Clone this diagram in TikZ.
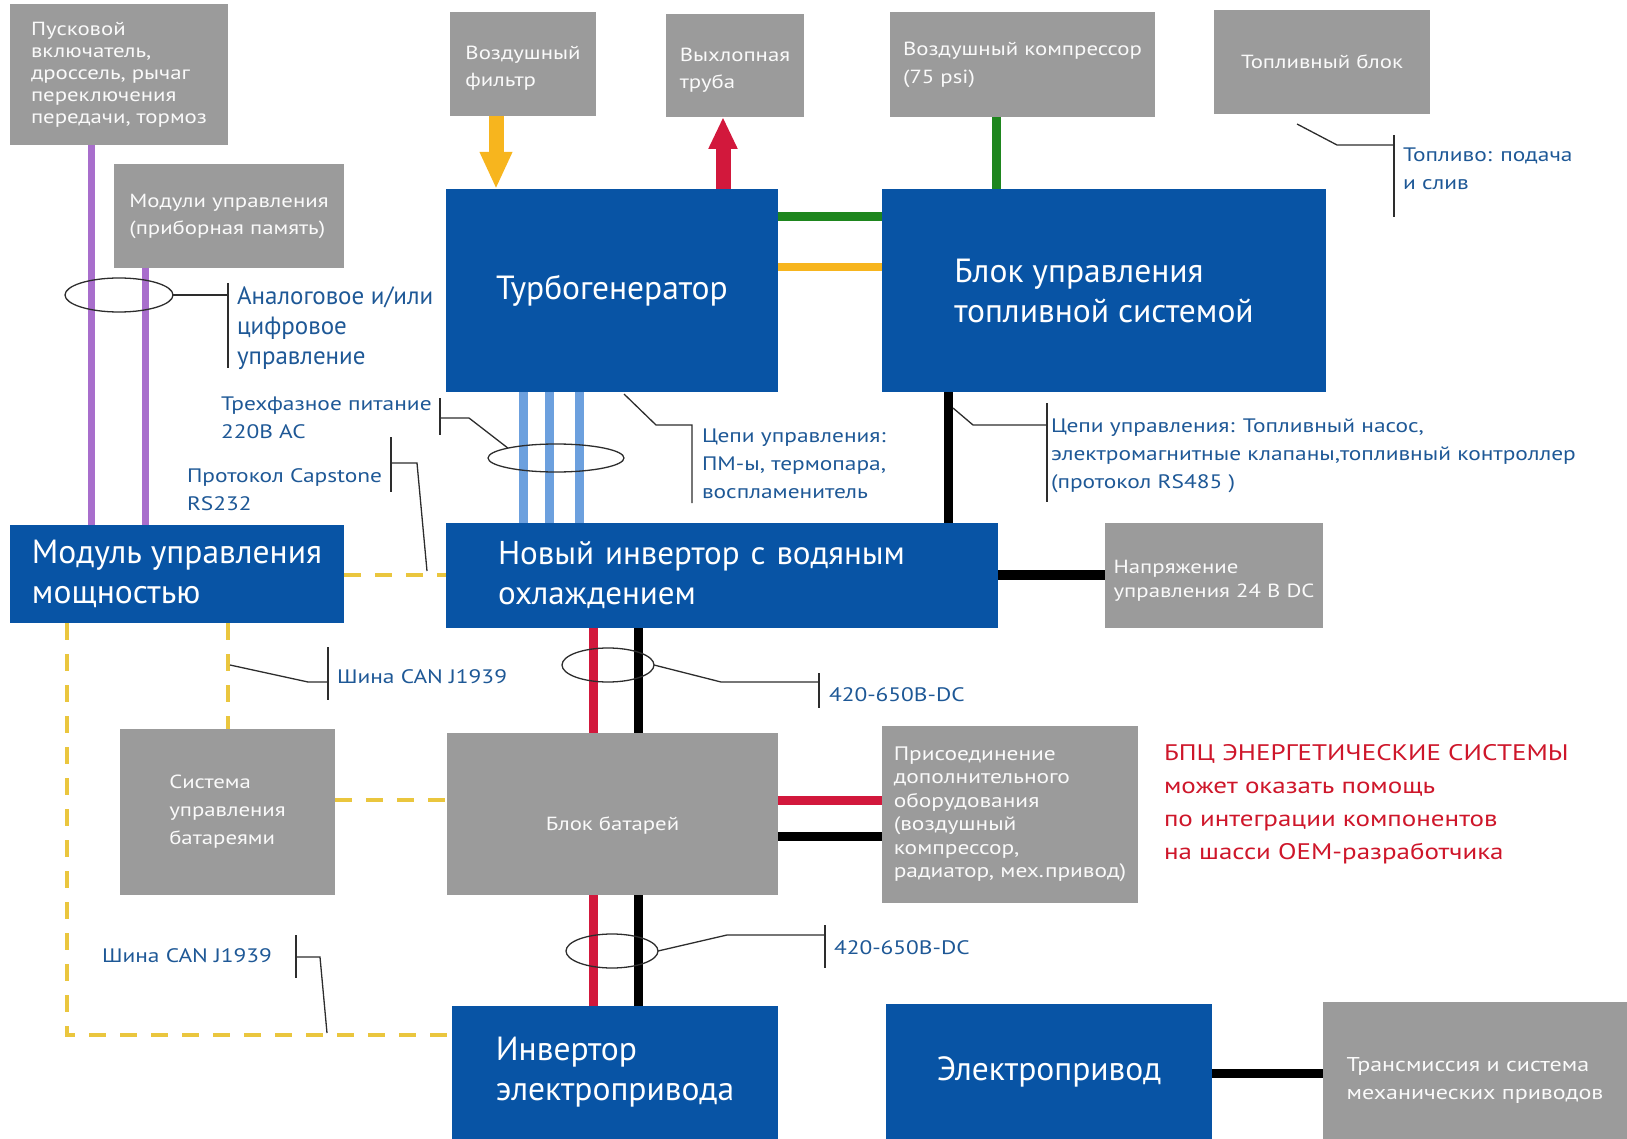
\documentclass[tikz,border=0pt]{standalone}
\usepackage{fontspec}
\setmainfont{PT Sans}
\newfontfamily\widefont{PT Sans}[FakeStretch=1.2]
\usepackage{xcolor}
\usetikzlibrary{arrows.meta}
\usetikzlibrary{shapes.geometric}
\definecolor{blockblue}{RGB}{8,84,165}
\definecolor{blockgray}{RGB}{155,155,155}
\definecolor{noteblue}{RGB}{30,88,150}
\definecolor{leadgray}{RGB}{45,45,45}
\definecolor{wirepurple}{RGB}{168,110,204}
\definecolor{wirephase}{RGB}{108,160,222}
\definecolor{wiregreen}{RGB}{30,134,30}
\definecolor{wireorange}{RGB}{247,181,30}
\definecolor{wirered}{RGB}{210,24,60}
\definecolor{busyellow}{RGB}{234,198,62}
\definecolor{promored}{RGB}{206,22,42}

\begin{document}
\begin{tikzpicture}[x=1pt,y=-1pt]
\tikzstyle{every node}=[inner sep=0pt,outer sep=0pt]
\tikzstyle{bluebox}=[fill=blockblue,text=white,anchor=north west,align=left,font=\fontsize{33.5}{40}\selectfont]
\tikzstyle{graybox}=[fill=blockgray,text=white!95!blockgray,anchor=north west,align=left,font=\widefont\fontsize{19}{22}\selectfont]
\tikzstyle{note}=[text=noteblue,anchor=west,align=left,font=\widefont\fontsize{19.5}{28}\selectfont]
\tikzstyle{leadline}=[draw=leadgray,line width=1.3pt]
\tikzstyle{bundle}=[ellipse,draw=leadgray,line width=1.3pt]
\tikzstyle{ctlwire}=[draw=wirepurple,line width=7pt]
\tikzstyle{phasewire}=[draw=wirephase,line width=9pt]
\tikzstyle{greenwire}=[draw=wiregreen,line width=9pt]
\tikzstyle{fuelwire}=[draw=wireorange,line width=8pt]
\tikzstyle{pluswire}=[draw=wirered,line width=9pt]
\tikzstyle{minuswire}=[draw=black,line width=9pt]
\tikzstyle{canbus}=[draw=busyellow,line width=4pt,dash pattern=on 17pt off 14pt]
\useasboundingbox (0,0) rectangle (1627,1139);

\node[graybox,minimum width=218pt,minimum height=141pt] (starter) at (10,4) {Пусковой\\включатель,\\дроссель, рычаг\\переключения\\передачи, тормоз};
\node[graybox,minimum width=230pt,minimum height=104pt,font=\widefont\fontsize{19}{27}\selectfont] (modules) at (114,164) {Модули управления\\(приборная память)};
\node[graybox,minimum width=146pt,minimum height=104pt,font=\widefont\fontsize{19}{27}\selectfont,text height=49pt] (filter) at (450,12) {Воздушный\\фильтр};
\node[graybox,minimum width=138pt,minimum height=103pt,font=\widefont\fontsize{19}{27}\selectfont,text height=49pt] (exhaust) at (666,14) {Выхлопная\\труба};
\node[graybox,minimum width=265pt,minimum height=105pt,font=\widefont\fontsize{19}{28}\selectfont] (compressor) at (890,12) {Воздушный компрессор\\(75 psi)};
\node[graybox,minimum width=216pt,minimum height=104pt] (fuelunit) at (1214,10) {Топливный блок};
\node[bluebox,minimum width=332pt,minimum height=203pt] (turbo) at (446,189) {Турбогенератор};
\node[bluebox,minimum width=444pt,minimum height=203pt] (fuelctl) at (882,189) {Блок управления\\топливной системой};
\node[bluebox,minimum width=334pt,minimum height=98pt] (pcm) at (10,525) {Модуль управления\\мощностью};
\node[bluebox,text width=448pt,inner xsep=52pt,minimum height=105pt,font=\fontsize{33}{40}\selectfont] (newinv) at (446,523) {Новый инвертор с водяным\\охлаждением};
\node[graybox,minimum width=218pt,minimum height=105pt,font=\widefont\fontsize{19}{24}\selectfont,text height=47pt] (ctlvolt) at (1105,523) {Напряжение\\управления 24 В DC};
\node[graybox,minimum width=215pt,minimum height=166pt,font=\widefont\fontsize{19}{28}\selectfont] (bms) at (120,729) {Система\\управления\\батареями};
\node[graybox,minimum width=331pt,minimum height=162pt,text height=36pt,text depth=4pt] (battery) at (447,733) {Блок батарей};
\node[graybox,minimum width=256pt,minimum height=177pt,font=\widefont\fontsize{19.5}{23.5}\selectfont] (aux) at (882,726) {Присоединение\\дополнительного\\оборудования\\(воздушный\\компрессор,\\радиатор, мех.привод)};
\node[bluebox,minimum width=326pt,minimum height=133pt] (drvinv) at (452,1006) {Инвертор\\электропривода};
\node[bluebox,minimum width=326pt,minimum height=135pt] (motor) at (886,1004) {Электропривод};
\node[graybox,minimum width=304pt,minimum height=137pt,font=\widefont\fontsize{20}{28}\selectfont,text height=62pt] (transm) at (1323,1002) {Трансмиссия и система\\механических приводов};

\node[note,font=\fontsize{25}{30}\selectfont] (ctlnote) at (237,328) {Аналоговое и/или\\цифровое\\управление};
\node[note] (phasenote) at (221,418) {Трехфазное питание\\220В AC};
\node[note] (capnote) at (187,490) {Протокол Capstone\\RS232};
\node[note] (turbonote) at (702,464) {Цепи управления:\\ПМ-ы, термопара,\\воспламенитель};
\node[note] (fuelnote) at (1051,456) {Цепи управления: Топливный насос,\\электромагнитные клапаны,топливный контроллер\\(протокол RS485 )};
\node[note] (supplynote) at (1403,169) {Топливо: подача\\и слив};
\node[note] (cannote) at (337,677) {Шина CAN J1939};
\node[note] (dcnote) at (829,695) {420-650В-DC};
\node[note] (dcnote2) at (834,948) {420-650В-DC};
\node[note] (cannote2) at (102,956) {Шина CAN J1939};
\node[anchor=west,align=left,text=promored,font=\widefont\fontsize{22.5}{33}\selectfont] (promo) at (1164,804) {БПЦ ЭНЕРГЕТИЧЕСКИЕ СИСТЕМЫ\\может оказать помощь\\по интеграции компонентов\\на шасси OEM-разработчика};

\coordinate (pu1) at (91,0);
\coordinate (pu2) at (145,0);
\coordinate (ar1) at (496,0);
\coordinate (ar2) at (723,0);
\coordinate (vc) at (996,0);
\coordinate (vf) at (948,0);
\coordinate (vp) at (593,0);
\coordinate (vm) at (638,0);
\coordinate (vb) at (228,0);
\coordinate (vl) at (67,0);
\coordinate (hg) at (0,217);
\coordinate (hy) at (0,267);
\coordinate (hv) at (0,575);
\coordinate (hp) at (0,800);
\coordinate (hm) at (0,836);
\coordinate (hd) at (0,1073);
\coordinate (hc) at (0,1035);

\draw[ctlwire] (pu1 |- starter.south) -- (pu1 |- pcm.north);
\draw[ctlwire] (pu2 |- modules.south) -- (pu2 |- pcm.north);
\draw[wireorange,line width=15pt,-{Triangle[length=37pt,width=30pt]}] (ar1 |- filter.south) -- (ar1 |- turbo.north);
\draw[wirered,line width=15pt,-{Triangle[length=32pt,width=27pt]}] (ar2 |- turbo.north) -- (ar2 |- exhaust.south);
\draw[greenwire] (hg -| turbo.east) -- (hg -| fuelctl.west);
\draw[fuelwire] (hy -| turbo.east) -- (hy -| fuelctl.west);
\draw[greenwire] (vc |- compressor.south) -- (vc |- fuelctl.north);
\draw[minuswire] (vf |- fuelctl.south) -- (vf |- newinv.north);
\foreach \d in {77,103,133} {
  \coordinate (ph) at ([xshift=\d pt]turbo.south west);
  \draw[phasewire] (ph) -- (ph |- newinv.north);
}
\draw[minuswire,line width=10pt] (hv -| newinv.east) -- (hv -| ctlvolt.west);
\draw[pluswire] (vp |- newinv.south) -- (vp |- battery.north);
\draw[minuswire] (vm |- newinv.south) -- (vm |- battery.north);
\draw[pluswire] (vp |- battery.south) -- (vp |- drvinv.north);
\draw[minuswire] (vm |- battery.south) -- (vm |- drvinv.north);
\draw[pluswire] (hp -| battery.east) -- (hp -| aux.west);
\draw[minuswire] (hm -| battery.east) -- (hm -| aux.west);
\draw[minuswire] (hd -| motor.east) -- (hd -| transm.west);
\draw[canbus] (hv -| pcm.east) -- (hv -| newinv.west);
\draw[canbus] (vb |- pcm.south) -- (vb |- bms.north);
\draw[canbus] (hp -| bms.east) -- (hp -| battery.west);
\draw[canbus] (vl |- pcm.south) -- (vl |- hc) -- (hc -| drvinv.west);

\node[bundle,minimum width=108pt,minimum height=34pt] (ring1) at (119,295) {};
\node[bundle,minimum width=136pt,minimum height=28pt] (ring2) at (556,458) {};
\node[bundle,minimum width=92pt,minimum height=34pt] (ring3) at (608,665) {};
\node[bundle,minimum width=92pt,minimum height=34pt] (ring4) at (612,951) {};

\coordinate (t1a) at (228,283);
\coordinate (t1b) at (228,368);
\draw[leadline] (t1a) -- (t1b);
\draw[leadline] (ring1.east) -- (ring1.east -| t1a);

\coordinate (t2a) at (440,398);
\coordinate (t2b) at (440,435);
\coordinate (k2) at (469,418);
\draw[leadline] (t2a) -- (t2b);
\draw[leadline] (ring2.north west) -- (k2) -- (k2 -| t2a);

\coordinate (t3a) at (391,437);
\coordinate (t3b) at (391,492);
\coordinate (k3a) at (417,463);
\coordinate (k3b) at (427,571);
\draw[leadline] (t3a) -- (t3b);
\draw[leadline] (k3a -| t3a) -- (k3a) -- (k3b);

\coordinate (k4a) at (624,394);
\coordinate (k4b) at (656,425);
\coordinate (t4a) at (692,425);
\coordinate (t4b) at (692,503);
\draw[leadline] (k4a) -- (k4b) -- (t4a) -- (t4b);

\coordinate (k5a) at (953,408);
\coordinate (k5b) at (973,425);
\coordinate (t5a) at (1047,403);
\coordinate (t5b) at (1047,502);
\draw[leadline] (t5a) -- (t5b);
\draw[leadline] (k5a) -- (k5b) -- (k5b -| t5a);

\coordinate (k6a) at (1297,124);
\coordinate (k6b) at (1337,145);
\coordinate (t6a) at (1394,135);
\coordinate (t6b) at (1394,217);
\draw[leadline] (t6a) -- (t6b);
\draw[leadline] (k6a) -- (k6b) -- (k6b -| t6a);

\coordinate (k7a) at (230,665);
\coordinate (k7b) at (308,682);
\coordinate (t7a) at (328,647);
\coordinate (t7b) at (328,700);
\draw[leadline] (t7a) -- (t7b);
\draw[leadline] (k7a) -- (k7b) -- (k7b -| t7a);

\coordinate (k8) at (721,682);
\coordinate (t8a) at (819,673);
\coordinate (t8b) at (819,708);
\draw[leadline] (t8a) -- (t8b);
\draw[leadline] (ring3.east) -- (k8) -- (k8 -| t8a);

\coordinate (k9) at (727,935);
\coordinate (t9a) at (825,925);
\coordinate (t9b) at (825,968);
\draw[leadline] (t9a) -- (t9b);
\draw[leadline] (ring4.east) -- (k9) -- (k9 -| t9a);

\coordinate (t10a) at (296,935);
\coordinate (t10b) at (296,978);
\coordinate (k10a) at (320,957);
\coordinate (k10b) at (327,1033);
\draw[leadline] (t10a) -- (t10b);
\draw[leadline] (k10a -| t10a) -- (k10a) -- (k10b);
\end{tikzpicture}
\end{document}
